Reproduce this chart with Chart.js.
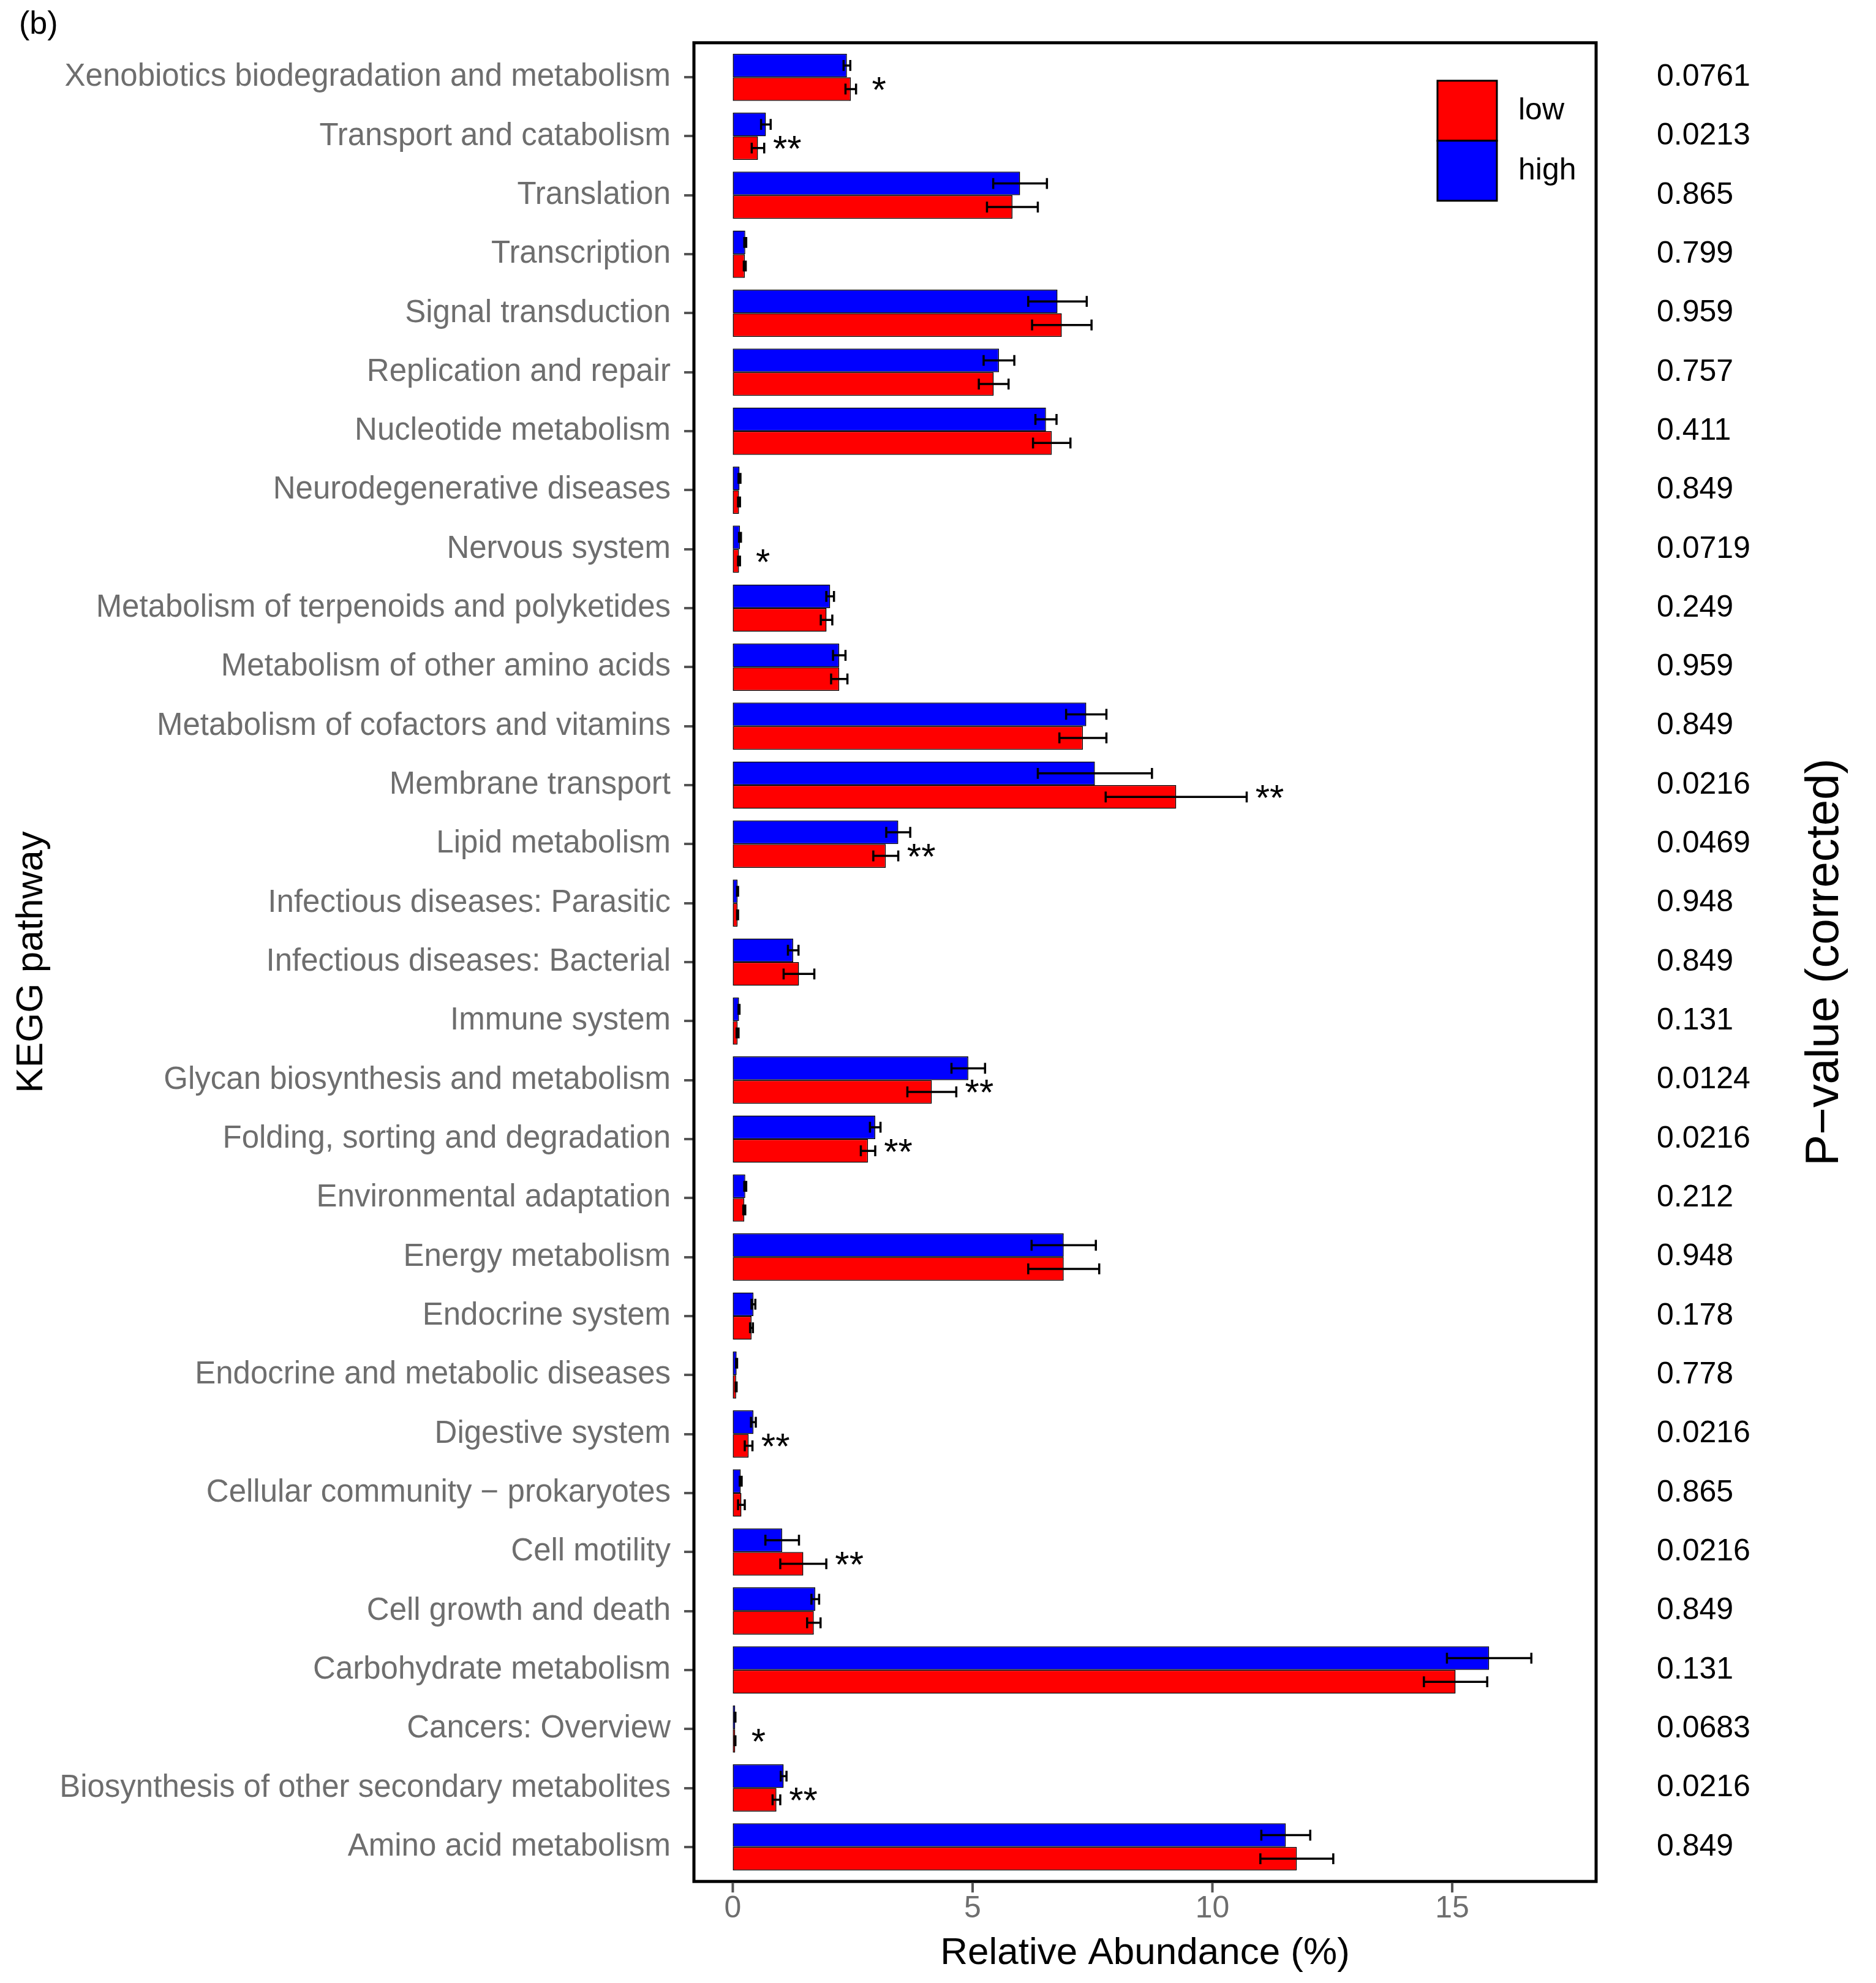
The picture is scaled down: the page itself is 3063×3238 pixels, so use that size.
<!DOCTYPE html>
<html>
<head>
<meta charset="utf-8">
<script src="https://cdn.jsdelivr.net/npm/chart.js@4.4.1/dist/chart.umd.min.js"></script>
<style>
  html, body { margin: 0; padding: 0; background: #fff; }
  #wrap { width: 3063px; height: 3238px; position: relative; }
</style>
</head>
<body>
<div id="wrap"><canvas id="keggCanvas"></canvas></div>
<script>
// pathways, top to bottom as in the figure
var pathways = [
  "Xenobiotics biodegradation and metabolism",
  "Transport and catabolism",
  "Translation",
  "Transcription",
  "Signal transduction",
  "Replication and repair",
  "Nucleotide metabolism",
  "Neurodegenerative diseases",
  "Nervous system",
  "Metabolism of terpenoids and polyketides",
  "Metabolism of other amino acids",
  "Metabolism of cofactors and vitamins",
  "Membrane transport",
  "Lipid metabolism",
  "Infectious diseases: Parasitic",
  "Infectious diseases: Bacterial",
  "Immune system",
  "Glycan biosynthesis and metabolism",
  "Folding, sorting and degradation",
  "Environmental adaptation",
  "Energy metabolism",
  "Endocrine system",
  "Endocrine and metabolic diseases",
  "Digestive system",
  "Cellular community \u2212 prokaryotes",
  "Cell motility",
  "Cell growth and death",
  "Carbohydrate metabolism",
  "Cancers: Overview",
  "Biosynthesis of other secondary metabolites",
  "Amino acid metabolism"
];

var highValues = [2.38, 0.69, 5.99, 0.26, 6.77, 5.55, 6.53, 0.14, 0.15, 2.03, 2.22, 7.37, 7.55, 3.45, 0.10, 1.26,
                  0.13, 4.91, 2.97, 0.26, 6.90, 0.43, 0.08, 0.43, 0.165, 1.03, 1.72, 15.77, 0.05, 1.06, 11.53];
var highErr    = [0.07, 0.10, 0.56, 0.02, 0.61, 0.32, 0.22, 0.02, 0.02, 0.08, 0.13, 0.42, 1.19, 0.25, 0.01, 0.11,
                  0.01, 0.35, 0.11, 0.02, 0.67, 0.04, 0.01, 0.05, 0.02, 0.35, 0.08, 0.88, 0.005, 0.06, 0.51];
var lowValues  = [2.46, 0.525, 5.83, 0.25, 6.86, 5.44, 6.65, 0.13, 0.13, 1.955, 2.22, 7.30, 9.245, 3.19, 0.10, 1.38,
                  0.10, 4.15, 2.82, 0.24, 6.90, 0.39, 0.07, 0.33, 0.18, 1.47, 1.69, 15.07, 0.05, 0.91, 11.76];
var lowErr     = [0.11, 0.13, 0.53, 0.02, 0.62, 0.31, 0.39, 0.02, 0.02, 0.12, 0.17, 0.49, 1.47, 0.26, 0.01, 0.32,
                  0.02, 0.51, 0.15, 0.02, 0.74, 0.03, 0.01, 0.08, 0.07, 0.48, 0.14, 0.66, 0.005, 0.08, 0.76];

var pValues = ["0.0761", "0.0213", "0.865", "0.799", "0.959", "0.757", "0.411", "0.849", "0.0719", "0.249",
               "0.959", "0.849", "0.0216", "0.0469", "0.948", "0.849", "0.131", "0.0124", "0.0216", "0.212",
               "0.948", "0.178", "0.778", "0.0216", "0.865", "0.0216", "0.849", "0.131", "0.0683", "0.0216", "0.849"];
var sigMarks = ["*", "**", "", "", "", "", "", "", "*", "", "", "", "**", "**", "", "",
                "", "**", "**", "", "", "", "", "**", "", "**", "", "", "*", "**", ""];

var xTicks = [0, 5, 10, 15];
var xMin = -0.81, xMax = 18.0;

var FONT = "'Liberation Sans', Arial, Helvetica, sans-serif";
var RED = "#FF0000", BLUE = "#0000FF";

function drawErrorBars(chart, dsIndex, values, errs) {
    var ctx = chart.ctx, xs = chart.scales.x;
    var meta = chart.getDatasetMeta(dsIndex);
    ctx.save();
    ctx.strokeStyle = "#000";
    ctx.lineWidth = 3.5;
    meta.data.forEach(function(bar, i) {
        var p = bar.getProps(["y", "height"], true);
        var x1 = xs.getPixelForValue(values[i] - errs[i]);
        var x2 = xs.getPixelForValue(values[i] + errs[i]);
        var cap = p.height * 0.23;
        ctx.beginPath();
        ctx.moveTo(x1, p.y); ctx.lineTo(x2, p.y);
        ctx.moveTo(x1, p.y - cap); ctx.lineTo(x1, p.y + cap);
        ctx.moveTo(x2, p.y - cap); ctx.lineTo(x2, p.y + cap);
        ctx.stroke();
    });
    ctx.restore();
}

var decorPlugin = {
    id: "decor",
    beforeDraw: function(chart) {
        var ctx = chart.ctx;
        ctx.save();
        ctx.fillStyle = "#fff";
        ctx.fillRect(0, 0, chart.width, chart.height);
        ctx.restore();
    },
    afterDatasetsDraw: function(chart) {
        var ctx = chart.ctx, xs = chart.scales.x;
        drawErrorBars(chart, 0, highValues, highErr);
        drawErrorBars(chart, 1, lowValues, lowErr);

        // significance stars, just right of the "low" error bar
        var lowMeta = chart.getDatasetMeta(1);
        ctx.save();
        ctx.fillStyle = "#000";
        ctx.font = "60px " + FONT;
        ctx.textAlign = "center";
        ctx.textBaseline = "middle";
        for (var i = 0; i < sigMarks.length; i++) {
            if (!sigMarks[i]) continue;
            var bar = lowMeta.data[i];
            var x = xs.getPixelForValue(lowValues[i] + lowErr[i] + 0.48);
            ctx.fillText(sigMarks[i], x, bar.y + 5);
        }
        ctx.restore();
    },
    afterDraw: function(chart) {
        var ctx = chart.ctx, area = chart.chartArea;
        var xs = chart.scales.x, ys = chart.scales.y;
        var pitch = (area.bottom - area.top) / pathways.length;
        var pad = pitch * 0.085;
        var top = area.top - pad, bottom = area.bottom + pad;

        ctx.save();
        // panel border
        ctx.strokeStyle = "#000";
        ctx.lineWidth = 5;
        ctx.strokeRect(area.left, top, area.right - area.left, bottom - top);

        // x tick marks under the border
        ctx.strokeStyle = "#555";
        ctx.lineWidth = 4;
        xTicks.forEach(function(v) {
            var px = xs.getPixelForValue(v);
            ctx.beginPath();
            ctx.moveTo(px, bottom + 2);
            ctx.lineTo(px, bottom + 18);
            ctx.stroke();
        });

        // p-values column
        ctx.fillStyle = "#000";
        ctx.font = "50px " + FONT;
        ctx.textAlign = "left";
        ctx.textBaseline = "middle";
        for (var i = 0; i < pValues.length; i++) {
            ctx.fillText(pValues[i], area.right + 99, ys.getPixelForValue(i));
        }

        // right axis title
        ctx.save();
        ctx.translate(2980, (top + bottom) / 2);
        ctx.rotate(-Math.PI / 2);
        ctx.font = "76px " + FONT;
        ctx.textAlign = "center";
        ctx.fillText("P\u2212value (corrected)", 0, 0);
        ctx.restore();

        // legend (low first, like the figure)
        var lx = area.right - 259, ly = top + 62, bw = 97, bh = 98;
        ctx.lineWidth = 3;
        ctx.strokeStyle = "#000";
        ctx.fillStyle = RED;
        ctx.fillRect(lx, ly, bw, bh);
        ctx.strokeRect(lx, ly, bw, bh);
        ctx.fillStyle = BLUE;
        ctx.fillRect(lx, ly + bh, bw, bh);
        ctx.strokeRect(lx, ly + bh, bw, bh);
        ctx.fillStyle = "#000";
        ctx.font = "50px " + FONT;
        ctx.textAlign = "left";
        ctx.fillText("low", lx + 132, ly + bh / 2);
        ctx.fillText("high", lx + 132, ly + bh * 1.5);

        // panel tag
        ctx.font = "52px " + FONT;
        ctx.fillText("(b)", 31, 41);
        ctx.restore();
    }
};

var ctx = document.getElementById("keggCanvas").getContext("2d");
var chart = new Chart(ctx, {
    type: "bar",
    data: {
        labels: pathways,
        datasets: [
            { label: "high", data: highValues, backgroundColor: BLUE, borderColor: "#000",
              borderWidth: 1.5, borderSkipped: false },
            { label: "low", data: lowValues, backgroundColor: RED, borderColor: "#000",
              borderWidth: 1.5, borderSkipped: false }
        ]
    },
    options: {
        indexAxis: "y",
        responsive: true,
        maintainAspectRatio: false,
        devicePixelRatio: 1,
        animation: false,
        categoryPercentage: 0.8,
        barPercentage: 1.0,
        layout: { padding: { left: 0, top: 78, right: 457, bottom: 0 } },
        plugins: {
            legend: { display: false },
            tooltip: { enabled: false }
        },
        scales: {
            x: {
                type: "linear",
                min: xMin,
                max: xMax,
                afterBuildTicks: function(scale) {
                    scale.ticks = xTicks.map(function(v) { return { value: v }; });
                },
                afterFit: function(scale) { scale.height = 174; },
                grid: { display: false, drawTicks: false },
                border: { display: false },
                ticks: { color: "#6e6e6e", font: { family: FONT, size: 50 }, padding: 23, maxRotation: 0 },
                title: { display: true, text: "Relative Abundance (%)", color: "#000",
                         font: { family: FONT, size: 62 }, padding: { top: 0, bottom: 11 } }
            },
            y: {
                afterFit: function(scale) { scale.width = 1133; },
                grid: { display: true, drawOnChartArea: false, offset: false, tickLength: 16,
                        color: "#555", lineWidth: 4 },
                border: { display: false },
                ticks: { color: "#6e6e6e", font: { family: FONT, size: 51 }, padding: 22, autoSkip: false },
                title: { display: true, text: "KEGG pathway", color: "#000",
                         font: { family: FONT, size: 62 }, padding: { top: 15, bottom: 0 } }
            }
        }
    },
    plugins: [decorPlugin]
});
</script>
</body>
</html>
